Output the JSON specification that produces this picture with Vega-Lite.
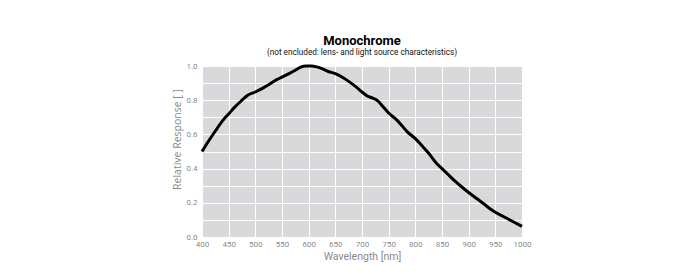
{
  "$schema": "https://vega.github.io/schema/vega-lite/v6.json",
  "width": 320,
  "height": 171,
  "padding": {"left": 172, "top": 34, "right": 5, "bottom": 5},
  "background": "white",
  "title": {
    "text": "Monochrome",
    "subtitle": "(not encluded: lens- and light source characteristics)",
    "font": "Roboto",
    "fontSize": 13,
    "fontWeight": "bold",
    "color": "#000000",
    "subtitleFont": "Roboto",
    "subtitleFontSize": 8.2,
    "subtitleColor": "#111111",
    "anchor": "middle",
    "offset": 4,
    "subtitlePadding": 1
  },
  "config": {
    "view": {"fill": "#d9d9db", "stroke": null},
    "axis": {
      "grid": true,
      "gridColor": "#ffffff",
      "gridWidth": 1,
      "gridOpacity": 1,
      "ticks": false,
      "domain": false,
      "labelColor": "#8a8a8a",
      "labelFont": "Roboto",
      "labelFontSize": 8,
      "labelFlush": false,
      "labelOverlap": false,
      "titleColor": "#8a8a8a",
      "titleFontWeight": "normal"
    }
  },
  "layer": [
    {
      "data": {
        "values": [
          {"wavelength": 400, "response": 0.5},
          {"wavelength": 410, "response": 0.55},
          {"wavelength": 425, "response": 0.62},
          {"wavelength": 440, "response": 0.685},
          {"wavelength": 450, "response": 0.72},
          {"wavelength": 460, "response": 0.755},
          {"wavelength": 475, "response": 0.8},
          {"wavelength": 485, "response": 0.828},
          {"wavelength": 500, "response": 0.848},
          {"wavelength": 515, "response": 0.872},
          {"wavelength": 525, "response": 0.89},
          {"wavelength": 540, "response": 0.92},
          {"wavelength": 550, "response": 0.935},
          {"wavelength": 565, "response": 0.958},
          {"wavelength": 575, "response": 0.975},
          {"wavelength": 585, "response": 0.993},
          {"wavelength": 595, "response": 1.0},
          {"wavelength": 605, "response": 1.0},
          {"wavelength": 615, "response": 0.995},
          {"wavelength": 625, "response": 0.985},
          {"wavelength": 635, "response": 0.97},
          {"wavelength": 650, "response": 0.955},
          {"wavelength": 660, "response": 0.94},
          {"wavelength": 675, "response": 0.91},
          {"wavelength": 690, "response": 0.875},
          {"wavelength": 700, "response": 0.848},
          {"wavelength": 710, "response": 0.825},
          {"wavelength": 720, "response": 0.812},
          {"wavelength": 730, "response": 0.795},
          {"wavelength": 740, "response": 0.76},
          {"wavelength": 750, "response": 0.725},
          {"wavelength": 765, "response": 0.685},
          {"wavelength": 775, "response": 0.65},
          {"wavelength": 785, "response": 0.615},
          {"wavelength": 800, "response": 0.575},
          {"wavelength": 815, "response": 0.525},
          {"wavelength": 825, "response": 0.49},
          {"wavelength": 840, "response": 0.43},
          {"wavelength": 850, "response": 0.4},
          {"wavelength": 860, "response": 0.37},
          {"wavelength": 875, "response": 0.325},
          {"wavelength": 890, "response": 0.285},
          {"wavelength": 900, "response": 0.26},
          {"wavelength": 915, "response": 0.225},
          {"wavelength": 930, "response": 0.19},
          {"wavelength": 940, "response": 0.165},
          {"wavelength": 950, "response": 0.145},
          {"wavelength": 965, "response": 0.12},
          {"wavelength": 980, "response": 0.095},
          {"wavelength": 1000, "response": 0.062}
        ]
      },
      "mark": {"type": "line", "color": "#000000", "strokeWidth": 3, "interpolate": "monotone", "clip": false},
      "encoding": {
        "x": {
          "field": "wavelength",
          "type": "quantitative",
          "scale": {"domain": [400, 1000], "nice": false, "zero": false},
          "axis": {
            "values": [400, 450, 500, 550, 600, 650, 700, 750, 800, 850, 900, 950, 1000],
            "tickCount": 30,
            "format": "d",
            "labelPadding": 3,
            "title": "Wavelength [nm]",
            "titleFont": "Roboto",
            "titleFontSize": 10.5,
            "titlePadding": 3
          }
        },
        "y": {
          "field": "response",
          "type": "quantitative",
          "scale": {"domain": [0, 1], "nice": false},
          "axis": {
            "values": [0, 0.1, 0.2, 0.3, 0.4, 0.5, 0.6, 0.7, 0.8, 0.9, 1.0],
            "tickCount": 30,
            "labelExpr": "round(datum.value * 10) % 2 === 0 ? format(datum.value, '.1f') : ''",
            "labelPadding": 5,
            "title": "Relative Response [ ]",
            "titleFont": "Open Sans",
            "titleFontSize": 10.5,
            "titlePadding": 3,
            "titleY": 73
          }
        }
      }
    },
    {
      "mark": {"type": "text", "angle": 90, "align": "left", "baseline": "middle", "fontSize": 4, "font": "Roboto", "color": "#999999", "dy": -5, "dx": 2},
      "encoding": {
        "x": {"datum": 1000},
        "y": {"datum": 1.0},
        "text": {"value": "© 2015 - Basler Group, 2024"}
      }
    }
  ]
}
